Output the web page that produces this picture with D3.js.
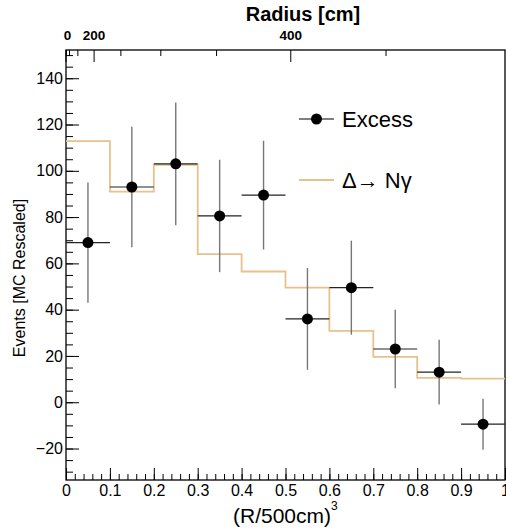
<!DOCTYPE html>
<html>
<head>
<meta charset="utf-8">
<script src="https://cdn.jsdelivr.net/npm/d3@7"></script>
<style>
  body { margin: 0; background: #fff; }
  svg { display: block; font-family: "Liberation Sans", Arial, sans-serif; }
</style>
</head>
<body>
<div id="chart"></div>
<script>
const svgWidth = 506;
const svgHeight = 529;

const margin = { top: 50, right: 1, bottom: 49, left: 66 };

const width = svgWidth - margin.left - margin.right;
const height = svgHeight - margin.top - margin.bottom;

// Data: bins of (R/500cm)^3
const binEdges = [0, 0.1, 0.2, 0.3, 0.4, 0.5, 0.6, 0.7, 0.8, 0.9, 1.0];
const excessValues = [69, 93, 103, 80.5, 89.5, 36, 49.5, 23, 13, -9.5];
const excessErrors = [26, 26, 26.5, 24.3, 23.5, 22, 20.3, 17, 14, 11];
const mcValues = [112.8, 91, 102.6, 64, 56.5, 49.5, 30.8, 19.6, 10.5, 10.2];

const yTicks = [-20, 0, 20, 40, 60, 80, 100, 120, 140];
const xTicks = [0, 0.1, 0.2, 0.3, 0.4, 0.5, 0.6, 0.7, 0.8, 0.9, 1];
const radiusMajor = [0, 200, 400];
const radiusMinor = [50, 100, 150, 250, 300, 350, 450];

const mcColor = "#e6c28c";

const svg = d3.select("#chart")
  .append("svg")
  .attr("width", svgWidth)
  .attr("height", svgHeight);

const chartGroup = svg.append("g")
  .attr("transform", `translate(${margin.left}, ${margin.top})`);

const x = d3.scaleLinear().domain([0, 1]).range([0, width]);
const y = d3.scaleLinear().domain([-33.6, 152.2]).range([height, 0]);

// Bottom axis: major ticks every 0.1, minor every 0.02
const bottomMinor = d3.axisBottom(x).tickValues(d3.range(0, 1.001, 0.02)).tickSize(-6).tickFormat("");
chartGroup.append("g").attr("transform", `translate(0, ${height})`).call(bottomMinor);
const bottomAxis = d3.axisBottom(x)
  .tickValues(xTicks)
  .tickSize(-12)
  .tickPadding(5)
  .tickFormat(d => d === 0 ? "0" : (d === 1 ? "1" : d3.format(".1f")(d)));
chartGroup.append("g").attr("class", "xaxis").attr("transform", `translate(0, ${height})`).call(bottomAxis);

// Left axis: major every 20, minor every 5
const leftMinor = d3.axisLeft(y).tickValues(d3.range(-30, 151, 5)).tickSize(-7).tickFormat("");
chartGroup.append("g").call(leftMinor);
const leftAxis = d3.axisLeft(y).tickValues(yTicks).tickSize(-13).tickPadding(3)
  .tickFormat(d => d < 0 ? "\u2212" + Math.abs(d) : d);
chartGroup.append("g").attr("class", "yaxis").call(leftAxis);

// Top axis: radius in cm, position = (R/500)^3
const rPos = r => x(Math.pow(r / 500, 3));
const topG = chartGroup.append("g");
topG.selectAll(".rminor").data(radiusMinor).enter().append("line")
  .attr("x1", rPos).attr("x2", rPos).attr("y1", 0).attr("y2", 6)
  .attr("stroke", "#000");
topG.selectAll(".rmajor").data(radiusMajor).enter().append("line")
  .attr("x1", rPos).attr("x2", rPos).attr("y1", 0).attr("y2", 12)
  .attr("stroke", "#000");
topG.selectAll(".rlabel").data(radiusMajor).enter().append("text")
  .attr("x", rPos)
  .attr("y", -10)
  .attr("text-anchor", "middle")
  .attr("dx", d => d === 0 ? 1.5 : 0)
  .attr("font-size", 13.5)
  .attr("font-weight", "bold")
  .text(d => d);

// Frame
chartGroup.append("rect")
  .attr("width", width).attr("height", height)
  .attr("fill", "none").attr("stroke", "#000").attr("stroke-width", 1.3);

chartGroup.selectAll(".domain").remove();
chartGroup.selectAll(".tick line").attr("stroke", "#000");
chartGroup.selectAll(".tick text").attr("font-size", 16).attr("fill", "#000")
  .attr("font-family", "'Liberation Sans', Arial, sans-serif");

// MC histogram (step line)
const steps = [];
mcValues.forEach((v, i) => {
  steps.push([binEdges[i], v]);
  steps.push([binEdges[i + 1], v]);
});
const stepLine = d3.line().x(d => x(d[0])).y(d => y(d[1]));
chartGroup.append("path")
  .datum(steps)
  .attr("d", stepLine)
  .attr("fill", "none")
  .attr("stroke", mcColor)
  .attr("stroke-width", 1.8);

// Excess points with error bars
const pts = excessValues.map((v, i) => ({
  x0: binEdges[i], x1: binEdges[i + 1], xc: (binEdges[i] + binEdges[i + 1]) / 2,
  v: v, e: excessErrors[i]
}));
const ptG = chartGroup.selectAll(".pt").data(pts).enter().append("g");
ptG.append("line")
  .attr("x1", d => x(d.xc)).attr("x2", d => x(d.xc))
  .attr("y1", d => y(d.v + d.e)).attr("y2", d => y(d.v - d.e))
  .attr("stroke", "#777").attr("stroke-width", 1.4);
ptG.append("line")
  .attr("x1", d => x(d.x0)).attr("x2", d => x(d.x1))
  .attr("y1", d => y(d.v)).attr("y2", d => y(d.v))
  .attr("stroke", "#222").attr("stroke-width", 1.2);
ptG.append("circle")
  .attr("cx", d => x(d.xc)).attr("cy", d => y(d.v))
  .attr("r", 5.5).attr("fill", "#000");

// Legend
const leg = svg.append("g");
leg.append("line").attr("x1", 299).attr("x2", 334).attr("y1", 119).attr("y2", 119)
  .attr("stroke", "#000").attr("stroke-width", 1.2);
leg.append("circle").attr("cx", 316.5).attr("cy", 119).attr("r", 5.5).attr("fill", "#000");
leg.append("text").attr("x", 342).attr("y", 127).attr("font-size", 22).text("Excess");
leg.append("line").attr("x1", 299).attr("x2", 334).attr("y1", 180).attr("y2", 180)
  .attr("stroke", mcColor).attr("stroke-width", 1.8);
leg.append("text").attr("x", 342).attr("y", 188).attr("font-size", 22)
  .text("\u0394\u2192 N\u03b3");

// Axis titles
svg.append("text")
  .attr("x", 303).attr("y", 21)
  .attr("text-anchor", "middle")
  .attr("font-size", 20).attr("font-weight", "bold")
  .text("Radius [cm]");

const xTitle = svg.append("text")
  .attr("x", 233).attr("y", 523)
  .attr("font-size", 21);
xTitle.append("tspan").text("(R/500cm)");
xTitle.append("tspan").attr("dy", -13).attr("font-size", 12).text("3");

svg.append("text")
  .attr("transform", "translate(25, 278) rotate(-90)")
  .attr("text-anchor", "middle")
  .attr("font-size", 16)
  .text("Events [MC Rescaled]");
</script>
</body>
</html>
